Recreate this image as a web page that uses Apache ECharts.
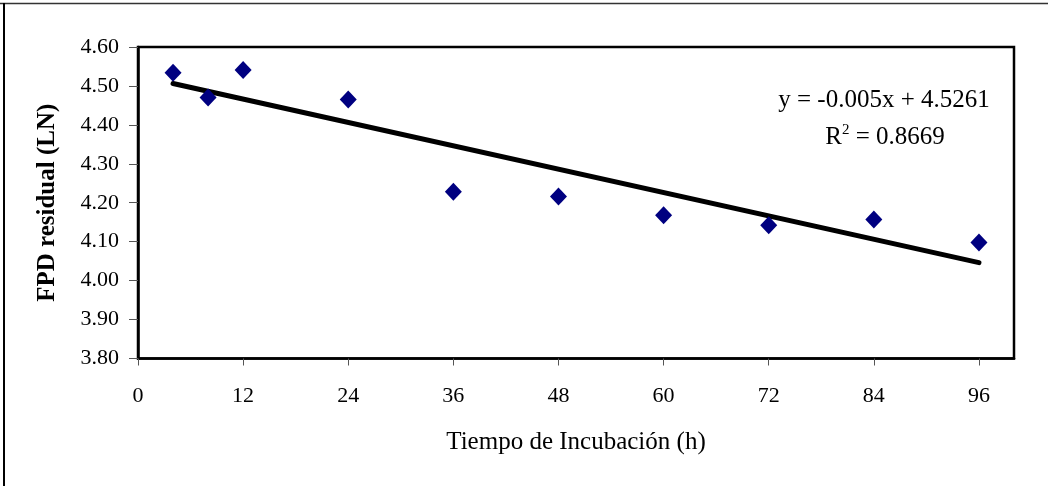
<!DOCTYPE html>
<html>
<head>
<meta charset="utf-8">
<script src="https://cdn.jsdelivr.net/npm/echarts@6/dist/echarts.min.js"></script>
<style>
  html, body { margin: 0; padding: 0; background: #fff; }
  #chart { width: 1048px; height: 486px; }
</style>
</head>
<body>
<div id="chart"></div>
<script>
// incubation time (h) and residual FPD (LN)
var horas = [4, 8, 12, 24, 36, 48, 60, 72, 84, 96];
var fpd = [4.534, 4.470, 4.541, 4.465, 4.228, 4.216, 4.168, 4.142, 4.157, 4.098];

// trendline shown on the chart
var pendiente = -0.005;
var intercepto = 4.5261;
var r2 = 0.8669;

var serif = '"Liberation Serif", "Times New Roman", serif';

var puntos = horas.map(function (h, i) { return [h, fpd[i]]; });
var xMin = Math.min.apply(null, horas), xMax = Math.max.apply(null, horas);
var tendencia = [
    [xMin, intercepto + pendiente * xMin],
    [xMax, intercepto + pendiente * xMax]
];

var chart = echarts.init(document.getElementById('chart'));

chart.setOption({
    animation: false,
    backgroundColor: '#fff',
    grid: {
        left: 138, top: 47, right: 34, bottom: 127.5,
        show: true, borderColor: '#000', borderWidth: 2.5
    },
    xAxis: {
        type: 'value',
        min: 0, max: 100, interval: 12,
        name: 'Tiempo de Incubación (h)',
        nameLocation: 'middle',
        nameGap: 71,
        nameTextStyle: { fontFamily: serif, fontSize: 25, color: '#000' },
        axisLine: { lineStyle: { color: '#000', width: 2.5 } },
        axisTick: { show: true, length: 7, lineStyle: { color: '#555', width: 1 } },
        axisLabel: { fontFamily: serif, fontSize: 22, color: '#000', margin: 27, showMaxLabel: false },
        splitLine: { show: false }
    },
    yAxis: {
        type: 'value',
        min: 3.8, max: 4.6, interval: 0.1,
        name: 'FPD residual (LN)',
        nameLocation: 'middle',
        nameGap: 78,
        nameTextStyle: { fontFamily: serif, fontSize: 25, fontWeight: 'bold', color: '#000' },
        axisLine: { show: true, lineStyle: { color: '#000', width: 2.5 } },
        axisTick: { show: true, length: 9, lineStyle: { color: '#555', width: 1 } },
        axisLabel: {
            fontFamily: serif, fontSize: 22, color: '#000', margin: 19,
            formatter: function (v) { return v.toFixed(2); }
        },
        splitLine: { show: false }
    },
    series: [
        {
            type: 'line',
            data: tendencia,
            symbol: 'none',
            lineStyle: { color: '#000', width: 5, cap: 'round' },
            z: 2
        },
        {
            type: 'scatter',
            data: puntos,
            symbol: 'diamond',
            symbolSize: [17, 18],
            itemStyle: { color: '#000080', opacity: 1 },
            z: 3
        }
    ],
    graphic: [
        {
            type: 'line',
            shape: { x1: 0, y1: 3.5, x2: 1048, y2: 3.5 },
            style: { stroke: '#333', lineWidth: 1.5 },
            silent: true
        },
        {
            type: 'line',
            shape: { x1: 4, y1: 3, x2: 4, y2: 486 },
            style: { stroke: '#000', lineWidth: 2 },
            silent: true
        },
        {
            type: 'text',
            x: 884, y: 100,
            style: {
                text: 'y = ' + pendiente.toFixed(3) + 'x + ' + intercepto.toFixed(4),
                font: '25px ' + serif,
                fill: '#000',
                align: 'center',
                verticalAlign: 'middle'
            }
        },
        {
            type: 'text',
            x: 885, y: 136,
            style: {
                text: '{n|R}{s|2}{n| = ' + r2.toFixed(4) + '}',
                align: 'center',
                verticalAlign: 'middle',
                rich: {
                    n: { font: '25px ' + serif, fill: '#000', verticalAlign: 'bottom' },
                    s: { font: '15px ' + serif, fill: '#000', verticalAlign: 'top', padding: [0, 0, 12, 0] }
                }
            }
        }
    ]
});
</script>
</body>
</html>
